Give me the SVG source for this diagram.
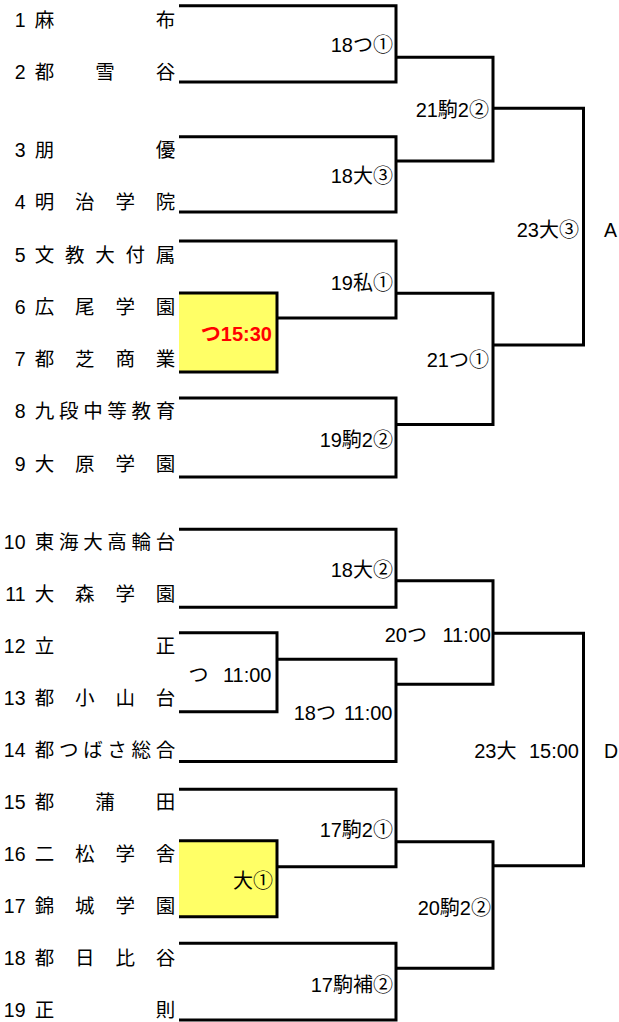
<svg xmlns="http://www.w3.org/2000/svg" width="619" height="1022" viewBox="0 0 619 1022">
<style>
text{font-family:"Liberation Sans","Noto Sans CJK JP",sans-serif;font-size:19.5px;fill:#000}
.c{text-anchor:middle}
.n{text-anchor:end}
.l{text-anchor:end;font-size:20px}
.red{fill:#ff0000;font-weight:bold}
.ln{fill:none;stroke:#000;stroke-width:3;stroke-linejoin:miter;stroke-linecap:butt}
.box{fill:#ffff66;stroke:none}
</style>
<rect width="619" height="1022" fill="#fff"/>
<g id="teams">
<g id="t1"><text class="n" x="25.5" y="26.5">1</text><text class="c" x="44.5" y="26.5">麻</text><text class="c" x="165.5" y="26.5">布</text></g>
<g id="t2"><text class="n" x="25.5" y="78.7">2</text><text class="c" x="44.5" y="78.7">都</text><text class="c" x="105" y="78.7">雪</text><text class="c" x="165.5" y="78.7">谷</text></g>
<g id="t3"><text class="n" x="25.5" y="157">3</text><text class="c" x="44.5" y="157">朋</text><text class="c" x="165.5" y="157">優</text></g>
<g id="t4"><text class="n" x="25.5" y="209.2">4</text><text class="c" x="44.5" y="209.2">明</text><text class="c" x="84.8" y="209.2">治</text><text class="c" x="125.2" y="209.2">学</text><text class="c" x="165.5" y="209.2">院</text></g>
<g id="t5"><text class="n" x="25.5" y="261.5">5</text><text class="c" x="44.5" y="261.5">文</text><text class="c" x="74.7" y="261.5">教</text><text class="c" x="105" y="261.5">大</text><text class="c" x="135.2" y="261.5">付</text><text class="c" x="165.5" y="261.5">属</text></g>
<g id="t6"><text class="n" x="25.5" y="313.7">6</text><text class="c" x="44.5" y="313.7">広</text><text class="c" x="84.8" y="313.7">尾</text><text class="c" x="125.2" y="313.7">学</text><text class="c" x="165.5" y="313.7">園</text></g>
<g id="t7"><text class="n" x="25.5" y="366">7</text><text class="c" x="44.5" y="366">都</text><text class="c" x="84.8" y="366">芝</text><text class="c" x="125.2" y="366">商</text><text class="c" x="165.5" y="366">業</text></g>
<g id="t8"><text class="n" x="25.5" y="418.2">8</text><text class="c" x="44.5" y="418.2">九</text><text class="c" x="68.7" y="418.2">段</text><text class="c" x="92.9" y="418.2">中</text><text class="c" x="117.1" y="418.2">等</text><text class="c" x="141.3" y="418.2">教</text><text class="c" x="165.5" y="418.2">育</text></g>
<g id="t9"><text class="n" x="25.5" y="470.5">9</text><text class="c" x="44.5" y="470.5">大</text><text class="c" x="84.8" y="470.5">原</text><text class="c" x="125.2" y="470.5">学</text><text class="c" x="165.5" y="470.5">園</text></g>
<g id="t10"><text class="n" x="25.5" y="548.5">10</text><text class="c" x="44.5" y="548.5">東</text><text class="c" x="68.7" y="548.5">海</text><text class="c" x="92.9" y="548.5">大</text><text class="c" x="117.1" y="548.5">高</text><text class="c" x="141.3" y="548.5">輪</text><text class="c" x="165.5" y="548.5">台</text></g>
<g id="t11"><text class="n" x="25.5" y="600.5">11</text><text class="c" x="44.5" y="600.5">大</text><text class="c" x="84.8" y="600.5">森</text><text class="c" x="125.2" y="600.5">学</text><text class="c" x="165.5" y="600.5">園</text></g>
<g id="t12"><text class="n" x="25.5" y="652.5">12</text><text class="c" x="44.5" y="652.5">立</text><text class="c" x="165.5" y="652.5">正</text></g>
<g id="t13"><text class="n" x="25.5" y="704.5">13</text><text class="c" x="44.5" y="704.5">都</text><text class="c" x="84.8" y="704.5">小</text><text class="c" x="125.2" y="704.5">山</text><text class="c" x="165.5" y="704.5">台</text></g>
<g id="t14"><text class="n" x="25.5" y="756.5">14</text><text class="c" x="44.5" y="756.5">都</text><text class="c" x="68.7" y="756.5">つ</text><text class="c" x="92.9" y="756.5">ば</text><text class="c" x="117.1" y="756.5">さ</text><text class="c" x="141.3" y="756.5">総</text><text class="c" x="165.5" y="756.5">合</text></g>
<g id="t15"><text class="n" x="25.5" y="808.5">15</text><text class="c" x="44.5" y="808.5">都</text><text class="c" x="105" y="808.5">蒲</text><text class="c" x="165.5" y="808.5">田</text></g>
<g id="t16"><text class="n" x="25.5" y="860.5">16</text><text class="c" x="44.5" y="860.5">二</text><text class="c" x="84.8" y="860.5">松</text><text class="c" x="125.2" y="860.5">学</text><text class="c" x="165.5" y="860.5">舎</text></g>
<g id="t17"><text class="n" x="25.5" y="912.5">17</text><text class="c" x="44.5" y="912.5">錦</text><text class="c" x="84.8" y="912.5">城</text><text class="c" x="125.2" y="912.5">学</text><text class="c" x="165.5" y="912.5">園</text></g>
<g id="t18"><text class="n" x="25.5" y="964.5">18</text><text class="c" x="44.5" y="964.5">都</text><text class="c" x="84.8" y="964.5">日</text><text class="c" x="125.2" y="964.5">比</text><text class="c" x="165.5" y="964.5">谷</text></g>
<g id="t19"><text class="n" x="25.5" y="1016.5">19</text><text class="c" x="44.5" y="1016.5">正</text><text class="c" x="165.5" y="1016.5">則</text></g>
</g>
<g id="boxes">
<rect class="box" x="179" y="293" width="98" height="79"/>
<rect class="box" x="179" y="840.7" width="98" height="76"/>
</g>
<g id="connectors">
<path class="ln" d="M179,5.7 H396 V82 H179"/>
<path class="ln" d="M179,136.7 H396 V212 H179"/>
<path class="ln" d="M396,57.3 H493 V161 H396"/>
<path class="ln" d="M493,108.3 H583.5 V345 H493"/>
<path class="ln" d="M179,241 H396 V318 H277"/>
<path class="ln" d="M179,293 H277 V372 H179"/>
<path class="ln" d="M396,293.3 H493 V424.5 H396"/>
<path class="ln" d="M179,398 H396 V477 H179"/>
<path class="ln" d="M179,529.3 H396 V607.3 H179"/>
<path class="ln" d="M396,580.7 H493 V684.3 H396"/>
<path class="ln" d="M179,632.7 H277 V711.7 H179"/>
<path class="ln" d="M277,659.3 H396 V761.5 H179"/>
<path class="ln" d="M493,633.3 H583.5 V865.7 H493"/>
<path class="ln" d="M179,789.3 H396 V866.7 H277"/>
<path class="ln" d="M179,840.7 H277 V916.7 H179"/>
<path class="ln" d="M396,841.7 H493 V968.3 H396"/>
<path class="ln" d="M179,943.3 H396 V1020 H179"/>
</g>
<g id="labels">
<text class="l" x="393" y="51.7">18つ①</text>
<text class="l" x="489" y="116.7">21駒2②</text>
<text class="l" x="393" y="183.3">18大③</text>
<text class="l" x="579" y="236.7">23大③</text>
<text class="c" x="610.5" y="236.7">A</text>
<text class="l" x="393" y="290">19私①</text>
<text class="l red" x="272" y="341.3">つ15:30</text>
<text class="l" x="489" y="367">21つ①</text>
<text class="l" x="393" y="446.7">19駒2②</text>
<text class="l" x="393" y="576.7">18大②</text>
<text class="l" x="427"  y="641.7">20つ<tspan x="491"> 11:00</tspan></text>
<text class="l" x="208.5" y="682">つ<tspan x="271.5"> 11:00</tspan></text>
<text class="l" x="336" y="720">18つ<tspan x="392.5"> 11:00</tspan></text>
<text class="l" x="516.5" y="758">23大<tspan x="579"> 15:00</tspan></text>
<text class="c" x="611" y="758">D</text>
<text class="l" x="393" y="836.7">17駒2①</text>
<text class="l" x="273" y="888">大①</text>
<text class="l" x="491" y="915">20駒2②</text>
<text class="l" x="393" y="991.5">17駒補②</text>
</g>
</svg>
